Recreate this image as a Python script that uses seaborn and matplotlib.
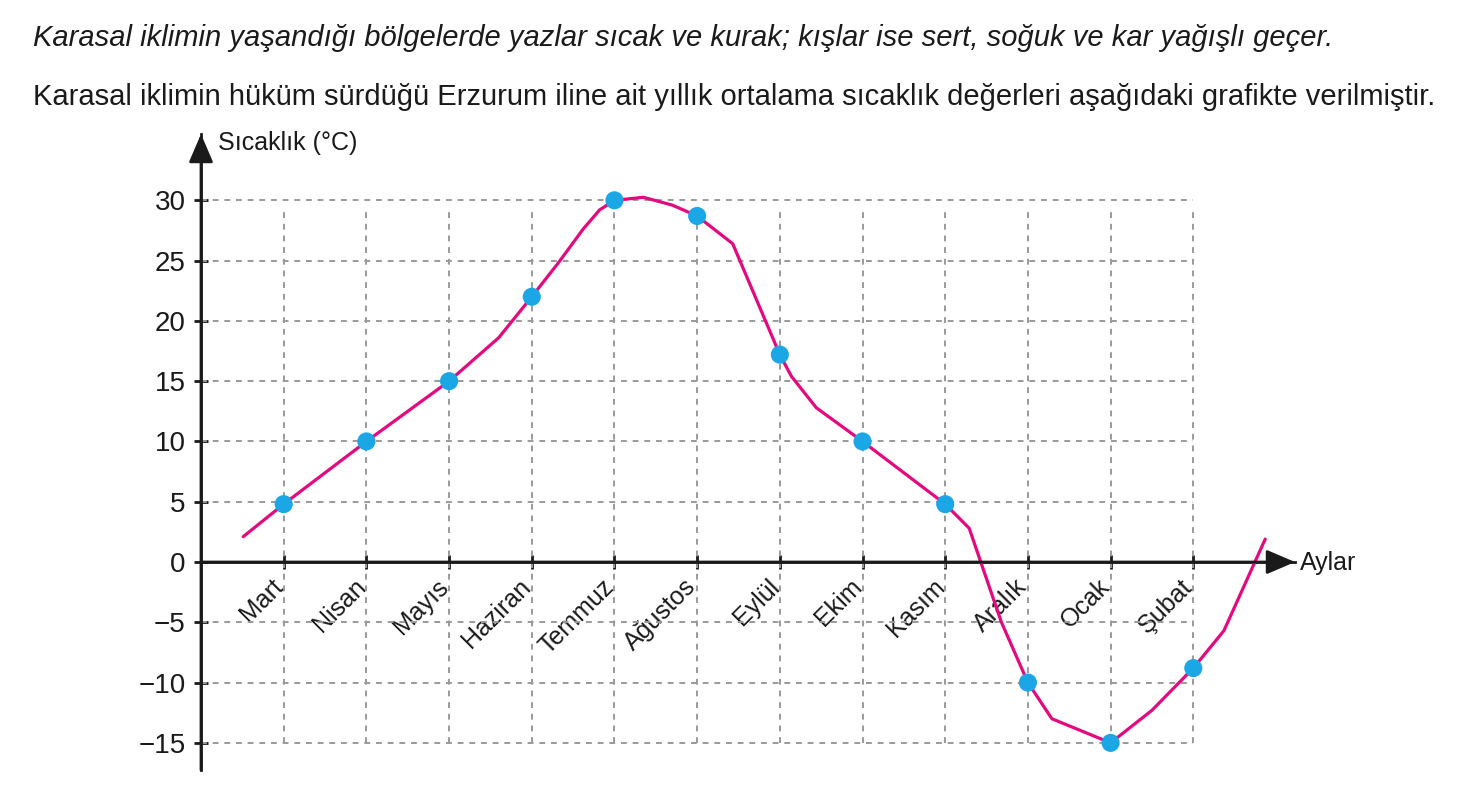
import numpy as np
import matplotlib
matplotlib.use('Agg')
import matplotlib.pyplot as plt
import matplotlib.transforms as mtransforms
import seaborn as sns

# Month labels and the monthly mean temperatures (dots)
months = ['Mart', 'Nisan', 'Mayıs', 'Haziran', 'Temmuz', 'Ağustos',
          'Eylül', 'Ekim', 'Kasım', 'Aralık', 'Ocak', 'Şubat']
temps = [4.8, 10, 15, 22, 30, 28.7, 17.2, 10, 4.8, -10, -15, -8.8]

# Vertices of the drawn curve (month index, temperature)
curve_pos = [-0.49, 0, 1, 2, 2.6, 3, 3.32, 3.62, 3.82, 4, 4.35, 4.7, 5, 5.43,
             6, 6.14, 6.44, 7, 8, 8.29, 8.68, 9, 9.29, 10, 10.5, 11, 11.37, 11.87]
curve_temp = [2.1, 4.8, 10, 15, 18.6, 22, 24.8, 27.6, 29.2, 30, 30.25, 29.6, 28.7, 26.4,
              17.2, 15.4, 12.8, 10, 4.8, 2.8, -5, -10, -13, -15, -12.3, -8.8, -5.7, 1.9]

y_ticks = [-15, -10, -5, 0, 5, 10, 15, 20, 25, 30]

header1 = 'Karasal iklimin yaşandığı bölgelerde yazlar sıcak ve kurak; kışlar ise sert, soğuk ve kar yağışlı geçer.'
header2 = 'Karasal iklimin hüküm sürdüğü Erzurum iline ait yıllık ortalama sıcaklık değerleri aşağıdaki grafikte verilmiştir.'

sns.set_style('white')
plt.rcParams['font.family'] = ['Liberation Sans', 'DejaVu Sans']

LINE = '#e4097f'
DOT = '#1ba6e6'
GRID = '#9a9a9a'
INK = '#1a1a1a'

fig = plt.figure(figsize=(14.62, 8.02), dpi=100)
ax = fig.add_axes([201 / 1462, 32 / 802, 1094 / 1462, 636 / 802])
x_pos = np.arange(len(months))
xmin, xmax = -1, 12.23
ymin, ymax = -17.25, 35.5
ax.set_xlim(xmin, xmax)
ax.set_ylim(ymin, ymax)

# dashed grid, limited to the chart area
ax.hlines([t for t in y_ticks if t != 0], xmin, x_pos[-1], colors=GRID,
          linestyles=(0, (3, 3)), linewidth=1.4, zorder=1)
ax.vlines(x_pos, y_ticks[0], y_ticks[-1] - 0.6, colors=GRID,
          linestyles=(0, (3, 3)), linewidth=1.4, zorder=1)

sns.lineplot(x=curve_pos, y=curve_temp, sort=False, color=LINE, linewidth=2.3,
             ax=ax, zorder=3)
sns.scatterplot(x=x_pos, y=temps, color=DOT, s=170, edgecolor='none',
                ax=ax, zorder=4)

# axes: spines plus arrow heads drawn over them
for s in ['top', 'right']:
    ax.spines[s].set_visible(False)
ax.spines['bottom'].set_position(('data', 0))
for s in ['bottom', 'left']:
    ax.spines[s].set_linewidth(2)
    ax.spines[s].set_color(INK)
arrow = dict(arrowstyle='-|>,head_length=0.7,head_width=0.3', color=INK,
             lw=2, mutation_scale=25, shrinkA=0, shrinkB=0)
ax.annotate('', xy=(xmax, 0), xytext=(xmin, 0), arrowprops=arrow, zorder=5)
ax.annotate('', xy=(xmin, ymax), xytext=(xmin, ymin), arrowprops=arrow, zorder=5)

ax.set_yticks(y_ticks)
ax.set_xticks(x_pos)
ax.set_xticklabels(months, rotation=45, ha='right')
ax.tick_params(axis='both', direction='inout', length=10, width=2, color=INK,
               labelcolor=INK, left=True, bottom=True)
ax.tick_params(axis='y', pad=6, labelsize=20)
ax.tick_params(axis='x', pad=4, labelsize=18)
shift = mtransforms.ScaledTranslation(4 / 100, 0, fig.dpi_scale_trans)
for lbl in ax.get_xticklabels():
    lbl.set_transform(lbl.get_transform() + shift)
ax.set_xlabel('')
ax.set_ylabel('')

fig.text(218 / 1462, 1 - 143 / 802, 'Sıcaklık (°C)', fontsize=18, va='center',
         color=INK)
fig.text(1300 / 1462, 1 - 563 / 802, 'Aylar', fontsize=18, va='center',
         color=INK)
fig.text(33 / 1462, 1 - 38 / 802, header1, fontsize=21, style='italic',
         va='center', color=INK)
fig.text(33 / 1462, 1 - 97 / 802, header2, fontsize=21, va='center',
         color=INK)

fig.savefig('out.png', dpi=100, facecolor='white')
